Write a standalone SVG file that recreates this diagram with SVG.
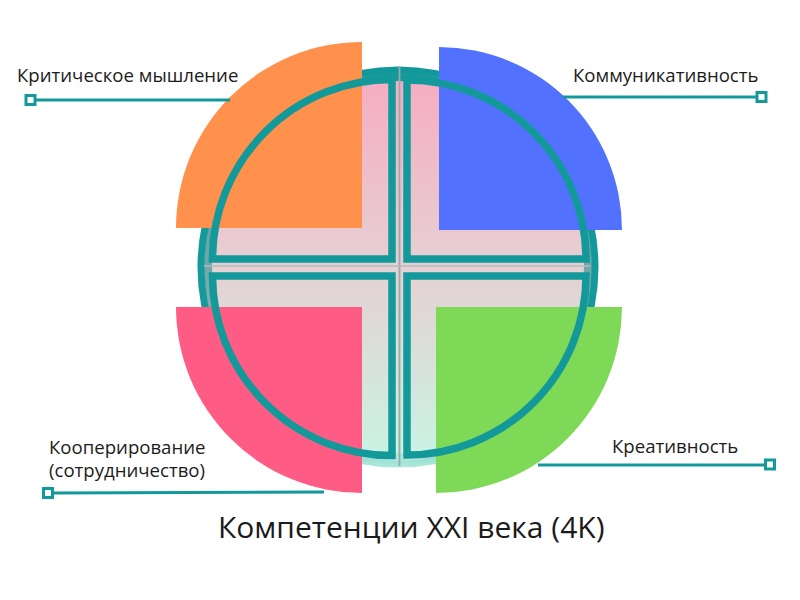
<svg xmlns="http://www.w3.org/2000/svg" width="800" height="600" viewBox="0 0 800 600">
<defs>
<linearGradient id="fillG" x1="0" y1="70" x2="0" y2="465" gradientUnits="userSpaceOnUse">
<stop offset="0" stop-color="#f7abc2"/>
<stop offset="0.5" stop-color="#e6d0d3"/>
<stop offset="1" stop-color="#c8f4e4"/>
</linearGradient>
<linearGradient id="ringG" x1="0" y1="65" x2="0" y2="470" gradientUnits="userSpaceOnUse">
<stop offset="0" stop-color="#11989a"/>
<stop offset="0.7" stop-color="#16999b"/>
<stop offset="0.9" stop-color="#5fc2b8"/>
<stop offset="1" stop-color="#b4ecde"/>
</linearGradient>
<linearGradient id="bandG" x1="0" y1="65" x2="0" y2="470" gradientUnits="userSpaceOnUse">
<stop offset="0" stop-color="#12989a"/>
<stop offset="0.25" stop-color="#4d9ea0"/>
<stop offset="0.5" stop-color="#72a7a8"/>
<stop offset="0.8" stop-color="#8fc4be"/>
<stop offset="1" stop-color="#b8efe0"/>
</linearGradient>
<style>
.lbl{font-family:"Open Sans","Liberation Sans",sans-serif;font-size:18.6px;fill:#1b1b1b}
.ttl{font-family:"Open Sans","Liberation Sans",sans-serif;font-size:30px;fill:#1b1b1b}
.quad{fill:none;stroke:#14999b;stroke-width:7.5;stroke-linejoin:miter}
.conn{stroke:#14999b;stroke-width:3;fill:none}
.end{fill:#ffffff;stroke:#14999b;stroke-width:3}
</style>
</defs>

<g id="wheel">
<circle cx="398" cy="267" r="193" fill="url(#fillG)"/>
<circle cx="398" cy="267" r="190" fill="none" stroke="url(#bandG)" stroke-width="8"/>
<circle cx="398" cy="267" r="197" fill="none" stroke="url(#ringG)" stroke-width="7"/>
<line x1="399.5" y1="66" x2="399.5" y2="466" stroke="#95abac" stroke-width="1.8"/>
<line x1="204" y1="266" x2="591" y2="266" stroke="#afbcbd" stroke-width="1.3"/>
</g>

<g id="sector-critical">
<path d="M362,228 L176,228 A186,186 0 0 1 362,42 Z" fill="#ff914d"/>
</g>
<g id="sector-communication">
<path d="M439,230 L622,230 A183,183 0 0 0 439,47 Z" fill="#5271ff"/>
</g>
<g id="sector-cooperation">
<path d="M362,307 L176,307 A186,186 0 0 0 362,493 Z" fill="#ff5c85"/>
</g>
<g id="sector-creativity">
<path d="M436,307 L622,307 A186,186 0 0 1 436,493 Z" fill="#7ed957"/>
</g>

<g id="quadrants">
<path class="quad" d="M392,259 L212.5,259 A179.5,179.5 0 0 1 392,79.5 Z"/>
<path class="quad" d="M407,259 L586,259 A179,179 0 0 0 407,80 Z"/>
<path class="quad" d="M392,276 L212.5,276 A179.5,179.5 0 0 0 392,455.5 Z"/>
<path class="quad" d="M407,276 L586,276 A179,179 0 0 1 407,455 Z"/>
</g>

<g id="connectors">
<line class="conn" x1="35" y1="100" x2="230" y2="100"/>
<line class="conn" x1="563" y1="97" x2="757" y2="97"/>
<line class="conn" x1="53" y1="493" x2="324" y2="492"/>
<line class="conn" x1="538" y1="465" x2="765" y2="465"/>
</g>

<g id="label-critical">
<rect class="end" x="26" y="95.5" width="9" height="9"/>
<text class="lbl" x="17" y="82">Критическое мышление</text>
</g>
<g id="label-communication">
<rect class="end" x="757" y="92.5" width="9" height="9"/>
<text class="lbl" x="573" y="82">Коммуникативность</text>
</g>
<g id="label-cooperation">
<rect class="end" x="43.5" y="488.5" width="9" height="9"/>
<text class="lbl" x="49" y="454">Кооперирование</text>
<text class="lbl" x="49" y="477">(сотрудничество)</text>
</g>
<g id="label-creativity">
<rect class="end" x="765.5" y="460" width="9" height="9"/>
<text class="lbl" x="612" y="453">Креативность</text>
</g>

<g id="title">
<text class="ttl" x="218" y="538">Компетенции XXI века (4K)</text>
</g>
</svg>
